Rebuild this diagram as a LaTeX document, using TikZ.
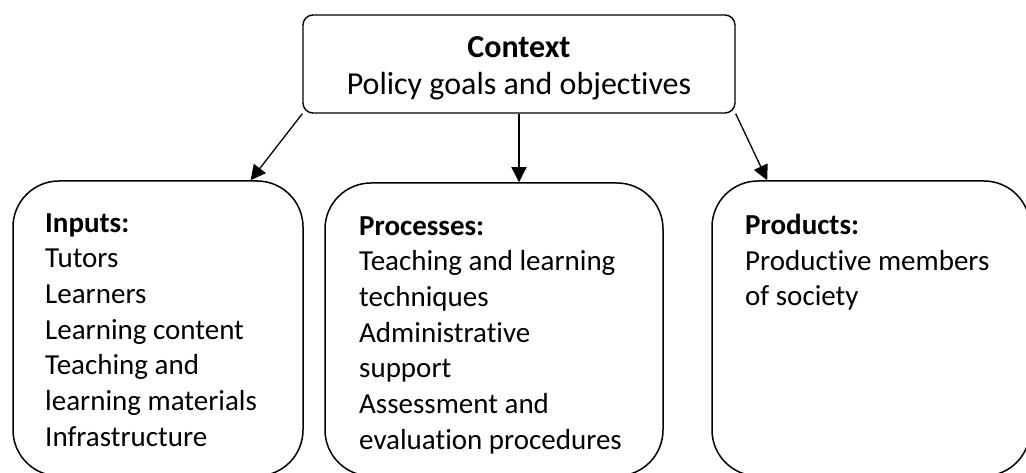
\documentclass[tikz,border=0pt]{standalone}
\usepackage{fontspec}
\setmainfont{Carlito}[Ligatures=NoCommon]
\usetikzlibrary{arrows.meta,calc}

\tikzset{
	ctxbox/.style={draw, line width=1.4pt, rounded corners=10pt, minimum width=432pt, minimum height=98pt, inner sep=0pt, align=center, font=\fontsize{32}{37}\selectfont},
	stagebox/.style={draw, line width=1.5pt, rounded corners=46pt, inner sep=0pt},
	stagetext/.style={anchor=north west, inner sep=0pt, align=left, font=\fontsize{29}{35.7}\selectfont},
	flow/.style={line width=1.3pt, -{Triangle[length=15pt,width=15pt]}}
}

\begin{document}
\begin{tikzpicture}[x=1pt,y=-1pt]
			%%%%% START %%%%%
			
			\useasboundingbox (0,0) rectangle (1026,473);
			
			\node[ctxbox] (ctx) at (519,64) {\rule{0pt}{29.6pt}\textbf{Context}\\Policy goals and objectives};
			
			\node[stagebox, minimum width=290pt, minimum height=295pt] (inputs) at (158,328.5) {};
			\node[stagebox, minimum width=338pt, minimum height=293pt] (procs) at (494,329.5) {};
			\node[stagebox, minimum width=318pt, minimum height=295pt] (prods) at (871,328.5) {};
			
			\node[stagetext] (inputsTxt) at (45,213) {\textbf{Inputs:}\\Tutors\\Learners\\Learning content\\Teaching and\\learning materials\\Infrastructure};
			\node[stagetext] (procsTxt) at (359,216) {\textbf{Processes:}\\Teaching and learning\\techniques\\Administrative\\support\\Assessment and\\evaluation procedures};
			\node[stagetext] (prodsTxt) at (745,214) {\textbf{Products:}\\Productive members\\of society};
			
			\draw[flow] (ctx.south west) -- (inputs.58.3);
			\draw[flow] (ctx.south) -- (ctx.south |- procs.north);
			\draw[flow] (ctx.south east) -- (prods.125.4);
			
			%%%%% END %%%%%
\end{tikzpicture}
\end{document}
